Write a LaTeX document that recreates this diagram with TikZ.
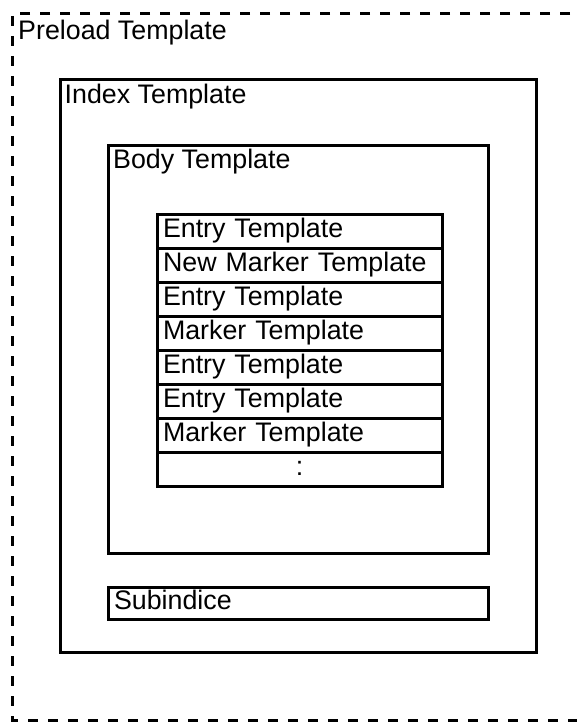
\documentclass[tikz,border=0pt]{standalone}
\usepackage{fontspec}
\setmainfont{Liberation Sans}
\begin{document}
\begin{tikzpicture}[x=1pt,y=-1pt,
  txt/.style={font=\fontsize{26.8}{32}\selectfont},
  box/.style={draw, line width=3pt, outer sep=0pt, anchor=north west, inner sep=0pt},
  lbl/.style={txt, anchor=base west, inner sep=0pt},
  rowbox/.style={box, txt, minimum width=285pt, minimum height=34pt, text width=273pt, inner xsep=6pt, inner ysep=0pt, align=left},
  dashline/.style={line width=3pt, dash pattern=on 10pt off 10pt}]
\useasboundingbox (0,0) rectangle (577,722);
\clip (0,0) rectangle (577,722);
% outer dashed frame (right side lies outside the picture)
\coordinate (pTR) at (590,14);
\coordinate (pTL) at (12,14);
\coordinate (pBL) at (12,720);
\coordinate (pBR) at (590,720);
\draw[dashline] (pTR) -- (pTL) -- (pBL) -- (pBR);
\node[lbl] (preload) at (18,40) {Preload Template};
% index
\node[box, minimum width=476pt, minimum height=572pt] (index) at (60,80) {};
\node[lbl] (indexlbl) at (64.5,104) {Index Template};
% body
\node[box, minimum width=380pt, minimum height=407pt] (body) at (108,146) {};
\node[lbl] (bodylbl) at (113,168) {Body Template};
% rows
\node[rowbox] (r1) at (157,214) {\strut Entry Template};
\node[rowbox] (r2) at (157,248) {\strut New Marker Template};
\node[rowbox] (r3) at (157,282) {\strut Entry Template};
\node[rowbox] (r4) at (157,316) {\strut Marker Template};
\node[rowbox] (r5) at (157,350) {\strut Entry Template};
\node[rowbox] (r6) at (157,384) {\strut Entry Template};
\node[rowbox] (r7) at (157,418) {\strut Marker Template};
\node[rowbox, align=center] (r8) at (157,452) {\strut :};
% subindice
\node[box, txt, minimum width=380pt, minimum height=32pt, text width=368pt, inner xsep=6pt, align=left] (sub) at (108,587) {\strut Subindice};
\end{tikzpicture}
\end{document}
